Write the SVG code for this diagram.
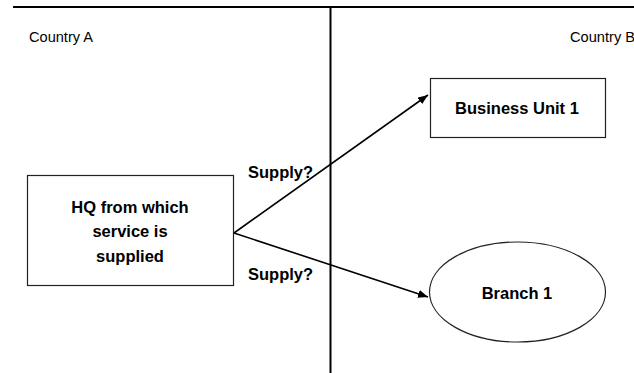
<svg xmlns="http://www.w3.org/2000/svg" width="634" height="373" viewBox="0 0 634 373">
<style>
.lbl{font-family:"Liberation Sans",Arial,sans-serif;font-size:14px;fill:#000}
.b{font-family:"Liberation Sans",Arial,sans-serif;font-size:16.5px;font-weight:bold;fill:#000}
.shape{fill:#fff;stroke:#222;stroke-width:1.2}
.conn{stroke:#000;stroke-width:1.6;fill:none}
</style>
<defs>
<marker id="arr" markerWidth="10" markerHeight="8" refX="10" refY="4" orient="auto" markerUnits="userSpaceOnUse">
<path d="M0,0 L10,4 L0,8 Z" fill="#000"/>
</marker>
</defs>
<g id="frame">
<line x1="13" y1="7" x2="634" y2="7" stroke="#000" stroke-width="2"/>
<line x1="330.5" y1="7" x2="330.5" y2="373" stroke="#000" stroke-width="2"/>
<text class="lbl" x="29" y="42" textLength="64" lengthAdjust="spacingAndGlyphs">Country A</text>
<text class="lbl" x="570" y="42" textLength="65" lengthAdjust="spacingAndGlyphs">Country B</text>
</g>
<g id="hq">
<rect class="shape" x="27.5" y="175.5" width="206" height="110"/>
<text class="b" x="130" y="213" text-anchor="middle">HQ from which</text>
<text class="b" x="130" y="237" text-anchor="middle">service is</text>
<text class="b" x="130" y="262" text-anchor="middle">supplied</text>
</g>
<g id="bu1">
<rect class="shape" x="430.5" y="78.5" width="175" height="59"/>
<text class="b" x="517" y="114" text-anchor="middle">Business Unit 1</text>
</g>
<g id="branch1">
<ellipse class="shape" cx="517.5" cy="292" rx="88" ry="50"/>
<text class="b" x="517" y="299" text-anchor="middle">Branch 1</text>
</g>
<g id="connectors">
<line class="conn" x1="234" y1="233" x2="428" y2="95" marker-end="url(#arr)"/>
<line class="conn" x1="234" y1="233" x2="428" y2="297" marker-end="url(#arr)"/>
<text class="b" x="248" y="178">Supply?</text>
<text class="b" x="248" y="280">Supply?</text>
</g>
</svg>
